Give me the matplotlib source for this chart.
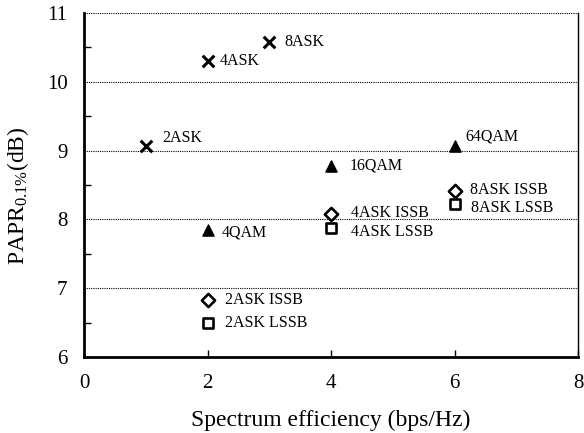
import matplotlib.pyplot as plt
from matplotlib.ticker import MultipleLocator

plt.rcParams.update({
    "font.family": "Liberation Serif",
    "mathtext.fontset": "custom",
    "mathtext.rm": "Liberation Serif",
    "mathtext.it": "Liberation Serif:italic",
})

# PAPR 0.1% (dB) vs spectrum efficiency (bps/Hz)
ask_names = ["2ASK", "4ASK", "8ASK"]
ask_eff = [1, 2, 3]
ask_papr = [9.07, 10.30, 10.58]

qam_names = ["4QAM", "16QAM", "64QAM"]
qam_eff = [2, 4, 6]
qam_papr = [7.85, 8.78, 9.06]

issb_names = ["2ASK ISSB", "4ASK ISSB", "8ASK ISSB"]
issb_eff = [2, 4, 6]
issb_papr = [6.83, 8.08, 8.42]

lssb_names = ["2ASK LSSB", "4ASK LSSB", "8ASK LSSB"]
lssb_eff = [2, 4, 6]
lssb_papr = [6.50, 7.88, 8.23]

fig = plt.figure(figsize=(5.84, 4.33), dpi=100)
ax = fig.add_axes([0.144, 0.1755, 0.846, 0.7945])

ax.scatter(ask_eff, ask_papr, marker="x", s=70, c="black", linewidths=2.2, zorder=3)
ax.scatter(qam_eff, qam_papr, marker="^", s=65, c="black", zorder=3)
ax.scatter(issb_eff, issb_papr, marker="D", s=45, facecolors="white",
           edgecolors="black", linewidths=1.9, zorder=3)
ax.scatter(lssb_eff, lssb_papr, marker="s", s=50, facecolors="white",
           edgecolors="black", linewidths=1.9, zorder=3)

# label offsets in pixels
ask_off = [(16, 8), (12, 0), (15, 0)]
qam_off = [(14, -3), (19, 0), (11, 10)]
issb_off = [(17, 0), (20, 1), (15, 1)]
lssb_off = [(17, 0), (20, -4), (16, -4)]

groups = [
    (ask_names, ask_eff, ask_papr, ask_off),
    (qam_names, qam_eff, qam_papr, qam_off),
    (issb_names, issb_eff, issb_papr, issb_off),
    (lssb_names, lssb_eff, lssb_papr, lssb_off),
]
for names, xs, ys, offs in groups:
    for n, x, y, o in zip(names, xs, ys, offs):
        ax.annotate(n, (x, y), textcoords="offset pixels", xytext=o,
                    ha="left", va="center", fontsize=11.5)

ax.set_xlim(0, 8)
ax.set_ylim(6, 11)
ax.xaxis.set_major_locator(MultipleLocator(2))
ax.yaxis.set_major_locator(MultipleLocator(1))
ax.yaxis.set_minor_locator(MultipleLocator(0.5))
ax.tick_params(axis="both", which="both", direction="in", labelsize=15,
               top=False, right=False)
ax.tick_params(axis="x", which="major", length=5, width=1, pad=12)
ax.tick_params(axis="y", which="major", length=0, pad=12)
ax.tick_params(axis="y", which="minor", length=5, width=1)
ax.tick_params(axis="x", which="minor", bottom=False)

ax.grid(axis="y", which="major", linestyle=(0, (1, 1)), color="black", linewidth=0.8)
ax.set_axisbelow(True)

ax.spines["left"].set_linewidth(2)
ax.spines["bottom"].set_linewidth(2)
ax.spines["right"].set_linewidth(1)
ax.spines["top"].set_visible(False)

ax.set_xlabel("Spectrum efficiency (bps/Hz)", fontsize=17, labelpad=12)
ax.set_ylabel("PAPR$_{0.1\\%}$(dB)", fontsize=17)
ax.yaxis.set_label_coords(-0.107, 0.47)

fig.savefig("out.png", dpi=100, facecolor="white")
